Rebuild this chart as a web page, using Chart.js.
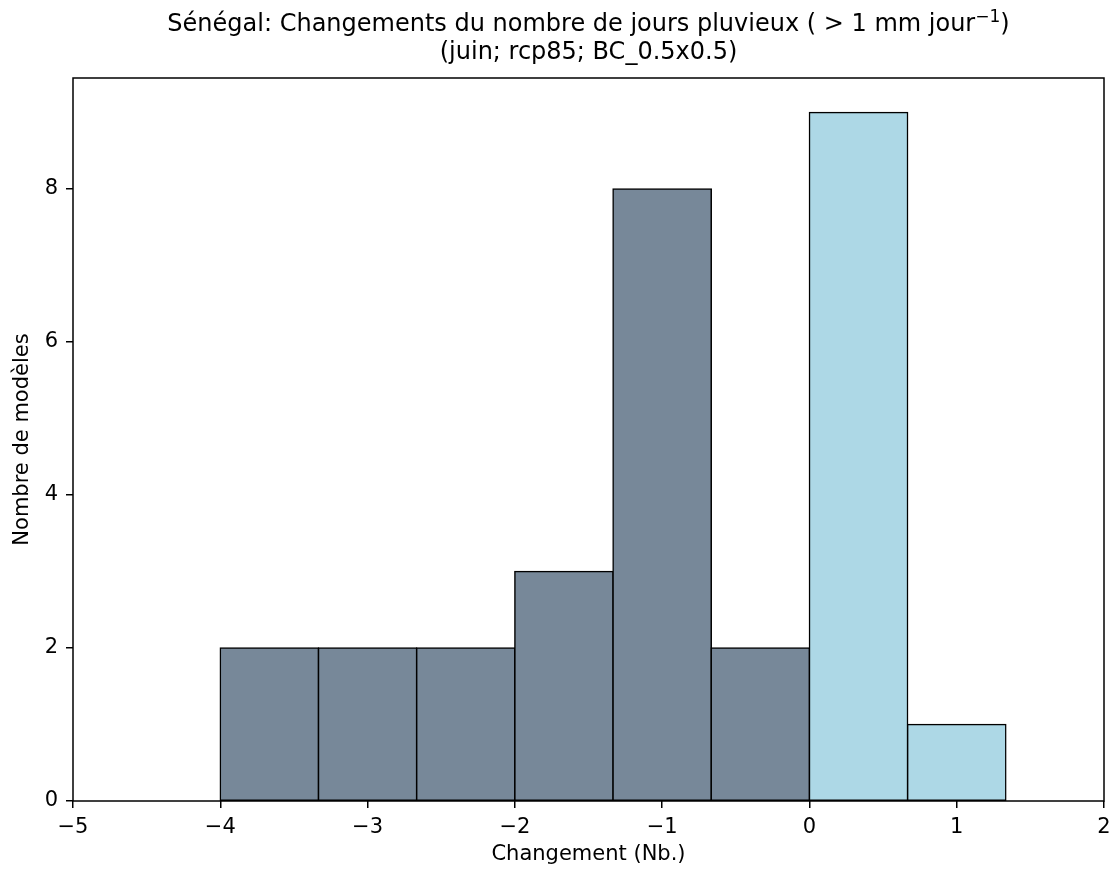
<!DOCTYPE html>
<html>
<head>
<meta charset="utf-8">
<script src="https://cdn.jsdelivr.net/npm/chart.js@4/dist/chart.umd.min.js"></script>
<style>
  html, body { margin: 0; padding: 0; background: #fff; }
  #wrap { width: 1114px; height: 869px; }
</style>
</head>
<body>
<div id="wrap"><canvas id="histChart" width="1114" height="869"></canvas></div>
<script>
// --- data ---
const binEdges  = [-4, -10/3, -8/3, -2, -4/3, -2/3, 0, 2/3, 4/3];
const binCounts = [2, 2, 2, 3, 8, 2, 9, 1];
const xTicks    = [-5, -4, -3, -2, -1, 0, 1, 2];
const yTicks    = [0, 2, 4, 6, 8];

const titleLine1 = 'Sénégal: Changements du nombre de jours pluvieux ( > 1 mm jour';
const titleSup   = '−1';
const titleLine2 = '(juin; rcp85; BC_0.5x0.5)';

const FONT = '"DejaVu Sans", sans-serif';
const NEG_COLOR = '#778899';   // lightslategray
const POS_COLOR = '#add8e6';   // lightblue

const minus = v => String(v).replace('-', '\u2212');

const binCenters = binCounts.map((_, i) => (binEdges[i] + binEdges[i + 1]) / 2);
const barColors  = binCenters.map(c => c < 0 ? NEG_COLOR : POS_COLOR);

// title with superscript + full axes frame, matplotlib style
const frameAndTitle = {
    id: 'frameAndTitle',
    afterDatasetsDraw(chart) {
        const { ctx, chartArea: a } = chart;
        ctx.save();
        ctx.strokeStyle = '#000';
        ctx.lineWidth = 1.5;
        ctx.strokeRect(a.left, a.top, a.right - a.left, a.bottom - a.top);
        ctx.restore();
    },
    afterDraw(chart) {
        const { ctx, chartArea: a } = chart;
        const cx = (a.left + a.right) / 2;
        ctx.save();
        ctx.fillStyle = '#000';
        ctx.textBaseline = 'alphabetic';
        ctx.font = '24px ' + FONT;
        const w1 = ctx.measureText(titleLine1).width;
        const w2 = ctx.measureText(')').width;
        ctx.font = '17px ' + FONT;
        const ws = ctx.measureText(titleSup).width;
        let x = cx - (w1 + ws + w2) / 2;
        ctx.textAlign = 'left';
        ctx.font = '24px ' + FONT;
        ctx.fillText(titleLine1, x, 31);
        x += w1;
        ctx.font = '17px ' + FONT;
        ctx.fillText(titleSup, x, 22);
        x += ws;
        ctx.font = '24px ' + FONT;
        ctx.fillText(')', x, 31);
        ctx.textAlign = 'center';
        ctx.fillText(titleLine2, cx, 59);
        ctx.restore();
    }
};

Chart.defaults.font.family = FONT;
Chart.defaults.color = '#000';

new Chart(document.getElementById('histChart').getContext('2d'), {
    type: 'bar',
    data: {
        datasets: [{
            data: binCenters.map((c, i) => ({ x: c, y: binCounts[i] })),
            backgroundColor: barColors,
            borderColor: '#000',
            borderWidth: 1.5,
            borderSkipped: false,
            inflateAmount: 0.75,
            barPercentage: 1,
            categoryPercentage: 1,
        }]
    },
    options: {
        responsive: false,
        animation: false,
        layout: { padding: { top: 78, right: 10, left: 0, bottom: 0 } },
        plugins: {
            legend: { display: false },
            tooltip: { enabled: false },
            title: { display: false }
        },
        scales: {
            x: {
                type: 'linear',
                min: -5, max: 2,
                offset: false,
                border: { display: false },
                grid: { offset: false, drawOnChartArea: false, color: '#000', lineWidth: 1.5, tickLength: 7 },
                afterBuildTicks: s => { s.ticks = xTicks.map(v => ({ value: v })); },
                afterFit: s => { s.height = 68; s.paddingLeft = 0; s.paddingRight = 0; },
                ticks: { font: { size: 21 }, padding: 7, maxRotation: 0, callback: v => minus(v) },
                title: { display: true, text: 'Changement (Nb.)', font: { size: 21 }, padding: { top: 0, bottom: 2 } }
            },
            y: {
                min: 0, max: 9.45,
                border: { display: false },
                grid: { offset: false, drawOnChartArea: false, color: '#000', lineWidth: 1.5, tickLength: 7 },
                afterBuildTicks: s => { s.ticks = yTicks.map(v => ({ value: v })); },
                afterFit: s => { s.width = 73; s.paddingTop = 0; s.paddingBottom = 0; },
                ticks: { font: { size: 21 }, padding: 8, callback: v => minus(v) },
                title: { display: true, text: 'Nombre de modèles', font: { size: 21 }, padding: { top: 10, bottom: 0 } }
            }
        }
    },
    plugins: [frameAndTitle]
});
</script>
</body>
</html>
